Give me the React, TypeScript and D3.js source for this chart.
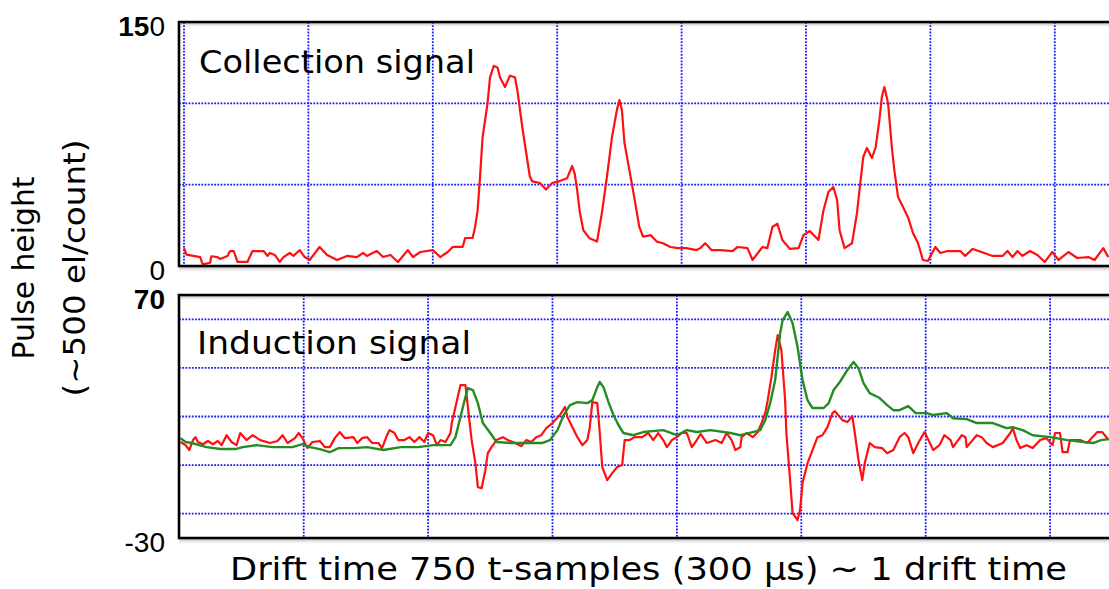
import * as d3 from "d3"
import React from "react"

// collection signal (top panel): sample index / pulse height
const collectionT = [0, 2, 13, 15, 21, 22, 27, 29, 35, 37, 40, 43, 51, 55, 64, 67, 69, 73, 77, 80, 85, 88, 93, 97, 101, 109, 115, 123, 131, 139, 144, 147, 155, 160, 166, 172, 180, 184, 190, 200, 206, 212, 216, 224, 226, 232, 234, 236, 238, 240, 244, 246, 249, 252, 254, 258, 262, 266, 268, 272, 276, 278, 280, 286, 291, 296, 301, 308, 312, 314, 316, 318, 321, 326, 332, 336, 340, 344, 348, 350, 352, 354, 358, 362, 366, 369, 375, 380, 385, 391, 397, 404, 412, 415, 419, 424, 431, 441, 445, 453, 457, 465, 469, 473, 477, 481, 487, 494, 498, 503, 510, 514, 518, 522, 525, 527, 531, 537, 541, 543, 546, 549, 553, 556, 559, 561, 563, 566, 569, 571, 574, 578, 582, 586, 590, 594, 598, 604, 608, 614, 624, 628, 634, 641, 650, 658, 662, 666, 670, 674, 680, 686, 692, 698, 703, 711, 718, 727, 732, 739, 743]
const collectionV = [11, 7, 5.5, 1, 2, 6, 5.5, 4.3, 6.2, 9.2, 9.2, 2.5, 2.5, 9.2, 9.2, 6.2, 8, 6.8, 2.5, 5.5, 8, 6.2, 9.8, 5.5, 3.7, 11.7, 6.8, 3.7, 6.2, 5.5, 8, 6.2, 9.2, 5.5, 6.8, 2.5, 9.8, 5.5, 8.6, 9.8, 5.5, 8.6, 11.7, 11.7, 17.2, 17.2, 24, 34, 55, 79, 100, 116, 123, 122, 116, 110, 117, 116, 108, 85, 65, 55, 52, 51, 47, 51, 52, 54, 61.5, 57, 47, 34, 22, 17, 15, 33, 55, 79, 96, 102, 96, 76, 59, 42, 24, 18, 19, 15, 14, 11.7, 11, 11, 9.8, 11, 14, 9.8, 9.8, 9.2, 11.7, 11, 3.7, 11.7, 11, 24, 26, 16, 10.5, 11, 19, 21.5, 16, 34, 45.5, 48.6, 40.6, 22, 11, 14, 32.6, 46.7, 67, 72.6, 66.4, 73, 89.8, 104, 110, 100, 73, 59, 42.4, 36.3, 30, 20.3, 14.1, 3.7, 3.1, 11.7, 8, 9.2, 9.2, 6.2, 10.5, 8.6, 6.2, 6.2, 9.2, 5.5, 9.2, 6.2, 9.2, 6.8, 2.5, 8.6, 3.7, 8.6, 4.9, 5.5, 3.7, 11, 5.5]

// induction signal (bottom panel), red trace
const inductionRedT = [1, 5, 8, 11, 13, 15, 19, 23, 27, 31, 34, 38, 42, 46, 49, 54, 59, 65, 73, 79, 83, 87, 93, 96, 99, 103, 107, 113, 117, 121, 125, 129, 133, 140, 143, 147, 151, 155, 160, 163, 167, 169, 173, 176, 181, 185, 189, 193, 197, 200, 204, 207, 210, 214, 218, 219, 222, 226, 230, 232, 235, 238, 240, 243, 246, 248, 251, 255, 260, 264, 270, 275, 279, 283, 287, 291, 295, 300, 306, 310, 312, 316, 320, 324, 328, 330, 332, 336, 338, 340, 344, 348, 352, 356, 358, 362, 366, 372, 377, 381, 385, 389, 392, 396, 400, 404, 408, 412, 416, 419, 424, 431, 436, 440, 444, 447, 451, 452, 456, 461, 465, 468, 471, 473, 476, 479, 481, 484, 487, 488, 491, 493, 497, 499, 501, 505, 509, 513, 517, 521, 525, 527, 533, 537, 541, 543, 546, 549, 551, 555, 559, 565, 569, 574, 579, 583, 586, 590, 594, 599, 603, 606, 611, 615, 620, 622, 629, 632, 633, 641, 645, 649, 654, 662, 668, 670, 673, 676, 681, 686, 692, 697, 702, 704, 708, 710, 714, 716, 724, 730, 734, 738, 742, 747]
const inductionRedV = [9.5, 8.2, 6.2, 10.3, 11.5, 9.5, 8.6, 9.9, 8.6, 9.9, 8.2, 12.3, 9.5, 8.2, 13.2, 10.3, 12.3, 10.3, 9.1, 9.9, 12.3, 9.1, 11.1, 13.2, 11.1, 7, 9.5, 9.9, 7.4, 7.4, 11.1, 13.6, 11.1, 11.5, 9.1, 11.1, 11.5, 9.1, 9.1, 7, 12.3, 14.4, 13.2, 10.3, 10.3, 11.5, 9.5, 11.5, 9.5, 13.2, 12.3, 8.2, 10.3, 9.5, 13.2, 17.3, 23.9, 32.9, 32.9, 23.9, 10.3, 0.8, -9.1, -9.5, -2.1, 4.9, 7.4, 10.3, 11.5, 10.3, 9.1, 7.8, 10.3, 9.5, 11.5, 12.3, 15.2, 17.3, 20.6, 23.9, 19.8, 15.6, 11.5, 8.2, 10.3, 15.6, 25.9, 25.5, 13.2, -0.8, -6.2, -3.3, -0.8, 0, 10.3, 10.3, 11.5, 11.5, 13.2, 10.3, 13.2, 10.3, 7.4, 10.3, 11.5, 13.2, 13.2, 7.4, 10.3, 12.8, 9.1, 10.3, 9.1, 13.2, 10.3, 6.2, 7.4, 11.5, 13.2, 11.5, 13.6, 17.3, 21.4, 26.7, 36.2, 47.3, 53.5, 47.3, 26.7, 13.2, -6.2, -19.8, -22.6, -18.5, -7.4, 0.8, 6.2, 11.5, 12.3, 15.6, 21.4, 22.2, 18.5, 17.7, 20.2, 13.2, 2.1, -6.2, 0.8, 9.1, 7.4, 7, 4.9, 6.2, 11.5, 13.2, 11.5, 4.9, 9.1, 13.6, 9.5, 6.2, 8.2, 12.3, 10.3, 7.4, 12.3, 11.5, 7.4, 12.3, 11.5, 9.1, 7.4, 9.1, 13.2, 15.2, 10.3, 7, 8.2, 7, 10.3, 11.1, 8.2, 13.2, 13.2, 5.3, 5.3, 10.3, 10.3, 9.1, 11.5, 13.6, 13.6, 10.3]

// induction signal (bottom panel), green trace
const inductionGreenT = [1, 5, 10, 22, 33, 45, 51, 62, 75, 91, 99, 105, 113, 121, 128, 140, 151, 164, 178, 192, 204, 218, 222, 226, 230, 232, 236, 240, 244, 250, 255, 266, 280, 292, 298, 304, 309, 314, 320, 328, 332, 336, 338, 341, 345, 349, 353, 357, 365, 373, 389, 400, 408, 416, 427, 443, 451, 461, 467, 471, 475, 479, 483, 485, 489, 493, 497, 501, 505, 509, 518, 522, 526, 531, 537, 542, 546, 550, 555, 563, 569, 574, 579, 586, 592, 601, 606, 617, 622, 633, 641, 654, 665, 670, 678, 686, 700, 714, 727, 735, 741, 747]
const inductionGreenV = [11.1, 9.5, 9.1, 7.4, 6.6, 6.6, 7.4, 8.2, 7.4, 7.4, 8.6, 7.4, 6.6, 5.3, 7, 7, 7.4, 6.2, 7.4, 7.4, 8.2, 8.2, 11.5, 19.8, 28, 31.7, 30.9, 25.5, 17.3, 13.2, 9.5, 9.1, 9.1, 9.1, 10.3, 14.4, 20.6, 24.7, 25.9, 25.5, 26.7, 32.1, 34.2, 32.1, 25.9, 20.6, 16.5, 13.2, 12.3, 13.6, 14.4, 12.3, 14.4, 13.6, 14.4, 13.2, 12.3, 13.6, 14.4, 18.5, 25.5, 35, 54.3, 59.7, 63, 58.4, 48.6, 35, 26.7, 23.5, 23.5, 25.5, 30.9, 34.2, 39.1, 42.4, 39.9, 33.7, 29.6, 27.6, 24.7, 22.6, 22.6, 24.3, 21.4, 21.4, 20.6, 21.4, 19.3, 18.9, 17.3, 17.3, 15.2, 15.6, 14.4, 12.3, 11.5, 10.3, 9.5, 9.1, 10.3, 10.7]

const topGridY = [0, 50, 100, 150]
const bottomGridY = [-20, 0, 20, 40, 60]
const gridX = [0, 100, 200, 300, 400, 500, 600, 700]
const topTickValues = [150, 0]
const bottomTickValues = [70, -30]

const W = 1109, H = 589
const handFont = "'Comic Sans MS', 'DejaVu Sans', sans-serif"
const numFont = "Arial, 'Liberation Sans', sans-serif"
const gridColor = "#1a1aff"

// panel geometry
const left = 179
const xTop = d3.scaleLinear().domain([0, 750]).range([184, 184 + 933])
const yTop = d3.scaleLinear().domain([0, 150]).range([266, 22])
const xBot = d3.scaleLinear().domain([0, 750]).range([179.3, 179.3 + 933])
const yBot = d3.scaleLinear().domain([-30, 70]).range([538, 295])

function trace(ts: number[], vs: number[], x: any, y: any) {
  const pts: [number, number][] = ts.map((t, i) => [x(t), y(vs[i])])
  return d3.line()(pts) || ""
}

function Panel(props: { x: any, y: any, gridY: number[], drawZeroX: boolean, children?: any, id: string }) {
  const { x, y, gridY, drawZeroX, id } = props
  const [y0, y1] = y.range()
  const top = y1, bottom = y0
  return (
    <g>
      <defs>
        <clipPath id={id}>
          <rect x={left} y={top} width={W - left} height={bottom - top} />
        </clipPath>
        <linearGradient id={id + "sh"} x1="0" y1="0" x2="0" y2="1">
          <stop offset="0" stopColor="#b8b8b8" />
          <stop offset="1" stopColor="#ffffff" stopOpacity="0" />
        </linearGradient>
      </defs>
      {/* soft shadow under the frame */}
      <rect x={left} y={bottom + 1} width={W - left} height={6} fill={`url(#${id}sh)`} />
      <rect x={left + 2} y={top + 1} width={W - left} height={5} fill={`url(#${id}sh)`} />
      {/* grid */}
      {gridX.filter(t => drawZeroX || t > 0).map(t => (
        <line key={"vx" + t} x1={x(t)} x2={x(t)} y1={top} y2={bottom}
          stroke={gridColor} strokeWidth={1.8} strokeDasharray="1.8 1.4" />
      ))}
      {gridY.map(v => (
        <line key={"hy" + v} x1={left} x2={W} y1={y(v)} y2={y(v)}
          stroke={gridColor} strokeWidth={1.8} strokeDasharray="1.8 1.4" />
      ))}
      <g clipPath={`url(#${id})`}>{props.children}</g>
      {/* frame */}
      <path d={`M${W + 5},${top}H${left}V${bottom}H${W + 5}`} fill="none" stroke="#000" strokeWidth={2.6} />
    </g>
  )
}

export default function App() {
  return (
    <svg width={W} height={H} style={{ position: "absolute", left: 0, top: 0, background: "#fff" }}>
      <rect width={W} height={H} fill="#fff" />

      <Panel x={xTop} y={yTop} gridY={topGridY} drawZeroX={true} id="pTop">
        <path d={trace(collectionT, collectionV, xTop, yTop)} fill="none" stroke="#ff1010" strokeWidth={2.2} strokeLinejoin="round" />
      </Panel>

      <Panel x={xBot} y={yBot} gridY={bottomGridY} drawZeroX={false} id="pBot">
        <path d={trace(inductionRedT, inductionRedV, xBot, yBot)} fill="none" stroke="#ff1010" strokeWidth={2.2} strokeLinejoin="round" />
        <path d={trace(inductionGreenT, inductionGreenV, xBot, yBot)} fill="none" stroke="#238c23" strokeWidth={2.4} strokeLinejoin="round" />
      </Panel>

      {/* panel titles */}
      <text x={199} y={73} fontFamily={handFont} fontSize={32} textLength={276} lengthAdjust="spacingAndGlyphs">Collection signal</text>
      <text x={197} y={354} fontFamily={handFont} fontSize={32} textLength={274} lengthAdjust="spacingAndGlyphs">Induction signal</text>

      {/* tick labels */}
      {topTickValues.map(v => (
        <text key={"tt" + v} x={165} y={yTop(v) + 14} textAnchor="end" fontFamily={numFont} fontSize={28}>
          {v === 150 ? <><tspan fontWeight="bold">15</tspan><tspan>0</tspan></> : String(v)}
        </text>
      ))}
      {bottomTickValues.map(v => (
        <text key={"bt" + v} x={165} y={yBot(v) + 14} textAnchor="end" fontFamily={numFont} fontSize={28}
          fontWeight={v > 0 ? "bold" : "normal"}>{String(v)}</text>
      ))}

      {/* y axis title */}
      <g transform="translate(34,268) rotate(-90)">
        <text x={0} y={0} textAnchor="middle" fontFamily={handFont} fontSize={30} textLength={183} lengthAdjust="spacingAndGlyphs">Pulse height</text>
      </g>
      <g transform="translate(85,268) rotate(-90)">
        <text x={0} y={0} textAnchor="middle" fontFamily={handFont} fontSize={30} textLength={257} lengthAdjust="spacingAndGlyphs">(~500 el/count)</text>
      </g>

      {/* x axis title */}
      <text x={230} y={580} fontFamily={handFont} fontSize={32} textLength={837} lengthAdjust="spacingAndGlyphs">Drift time 750 t-samples (300 µs) ~ 1 drift time</text>
    </svg>
  )
}
